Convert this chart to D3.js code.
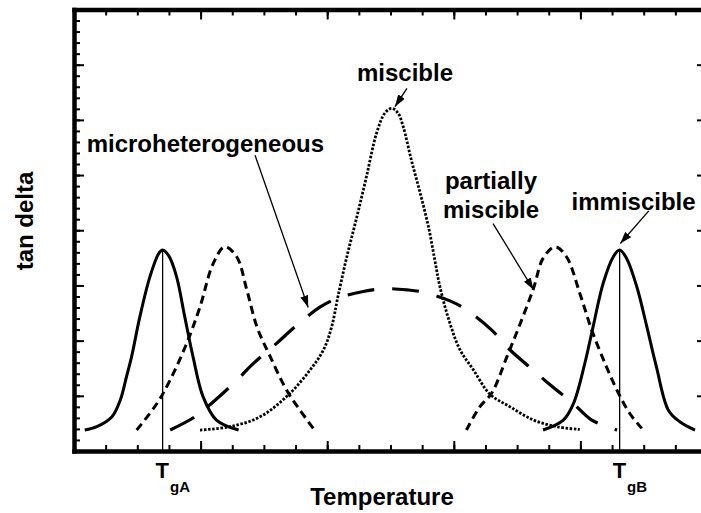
<!DOCTYPE html>
<html>
<head>
<meta charset="utf-8">
<script src="https://cdn.jsdelivr.net/npm/d3@7"></script>
<style>
  body { margin: 0; background: #fff; }
  text { font-family: "Liberation Sans", Arial, Helvetica, sans-serif; font-weight: bold; fill: #000; }
</style>
</head>
<body>
<div id="chart"></div>
<script>
// curves: [temperature, tan delta]
var immiscibleA = [[0.17,0.38],[0.36,0.44],[0.6,0.62],[0.73,0.92],[0.83,1.35],[0.91,1.71],[1.04,2.43],
    [1.2,3.16],[1.34,3.58],[1.4,3.64],[1.5,3.53],[1.62,3.16],[1.75,2.43],[1.88,1.71],[2.04,0.98],
    [2.25,0.56],[2.6,0.38]];
var immiscibleB = [[7.41,0.38],[7.73,0.56],[7.89,0.86],[8.07,1.59],[8.2,2.25],[8.36,3.04],[8.52,3.52],
    [8.62,3.64],[8.73,3.49],[8.89,2.98],[9.05,2.25],[9.2,1.53],[9.39,0.74],[9.57,0.53],[9.81,0.38]];
var partialA = [[0.99,0.38],[1.31,0.86],[1.52,1.29],[1.78,1.95],[1.99,2.61],[2.2,3.4],[2.38,3.7],
    [2.57,3.52],[2.73,2.92],[2.89,2.25],[3.1,1.71],[3.36,1.1],[3.57,0.74],[3.78,0.41]];
var partialB = [[6.2,0.38],[6.41,0.8],[6.6,1.05],[6.84,1.71],[7.05,2.31],[7.26,2.95],[7.41,3.49],
    [7.6,3.7],[7.78,3.52],[7.99,2.86],[8.18,2.19],[8.41,1.53],[8.6,1.05],[8.78,0.68],[8.97,0.41]];
var miscible = [[1.99,0.38],[2.46,0.44],[2.94,0.62],[3.38,1.01],[3.73,1.47],[3.94,1.83],[4.07,2.25],
    [4.17,2.8],[4.31,3.52],[4.47,4.25],[4.62,4.97],[4.78,5.76],[4.91,6.12],[5.02,6.21],[5.12,6.12],
    [5.2,5.88],[5.33,5.27],[5.47,4.67],[5.6,4.06],[5.7,3.46],[5.78,2.98],[5.94,2.31],[6.1,1.83],
    [6.31,1.47],[6.57,1.03],[6.89,0.8],[7.26,0.56],[7.63,0.44],[7.99,0.39]];
var microhet = [[1.52,0.38],[1.91,0.62],[2.18,0.87],[2.58,1.29],[2.81,1.56],[3.21,1.96],[3.49,2.25],
    [3.89,2.61],[4.17,2.77],[4.57,2.89],[4.91,2.94],[5.26,2.92],[5.51,2.88],[5.94,2.72],[6.21,2.55],
    [6.6,2.19],[6.89,1.83],[7.25,1.47],[7.52,1.2],[7.88,0.87],[8.18,0.56],[8.58,0.38]];

// glass transitions marked on the axis
var tgNames = ["gA", "gB"];
var tgValues = [1.4, 8.62];
var tgPeaks = [3.64, 3.64];

// label text, position and arrow (from -> to)
var labelNames = ["microheterogeneous", "miscible", "partially", "miscible", "immiscible"];
var labelPos = [[0.2,5.42],[4.47,6.71],[5.86,4.75],[5.83,4.22],[7.86,4.37]];
var arrowFrom = [[2.86,5.36],[5.26,6.57],[6.62,4.12],[9.08,4.35]];
var arrowTo = [[3.7,2.6],[5.07,6.24],[7.26,2.92],[8.63,3.76]];

var width = 701, height = 513;

var svg = d3.select("#chart").append("svg")
    .attr("width", width)
    .attr("height", height);

var x = d3.scaleLinear().domain([0, 10]).range([74, 707]);
var y = d3.scaleLinear().domain([0, 8]).range([451, 9.5]);

var majorX = d3.range(0, 10.01, 2), minorX = d3.range(0, 10.01, 0.5);
var majorY = d3.range(0, 8.01, 1), minorY = d3.range(0, 8.01, 0.2);

function axisGroup(axis, tx, ty, size, vals, withDomain) {
    var g = svg.append("g")
        .attr("transform", "translate(" + tx + "," + ty + ")")
        .call(axis.tickValues(vals).tickSizeInner(size).tickSizeOuter(0).tickFormat(""));
    g.selectAll(".tick line").attr("stroke", "#000").attr("stroke-width", 2);
    if (withDomain) {
        g.select(".domain").attr("stroke", "#000").attr("stroke-width", 4.5).attr("stroke-linecap", "square");
    } else {
        g.select(".domain").remove();
    }
    return g;
}

// frame with inward ticks
axisGroup(d3.axisBottom(x), 0, y(0), -6, minorX, false);
axisGroup(d3.axisBottom(x), 0, y(0), -10, majorX, true);
axisGroup(d3.axisTop(x), 0, y(8), -6, minorX, false);
axisGroup(d3.axisTop(x), 0, y(8), -10, majorX, true);
axisGroup(d3.axisLeft(y), x(0), 0, -6, minorY, false);
axisGroup(d3.axisLeft(y), x(0), 0, -10, majorY, true);
axisGroup(d3.axisRight(y), x(10), 0, -6, minorY, false);
axisGroup(d3.axisRight(y), x(10), 0, -10, majorY, true);

var line = d3.line()
    .x(function(d) { return x(d[0]); })
    .y(function(d) { return y(d[1]); })
    .curve(d3.curveCatmullRom.alpha(0.5));

var series = [
    {data: miscible, width: 2.8, dash: "2.5,1.6"},
    {data: partialA, width: 3, dash: "8,5"},
    {data: partialB, width: 3, dash: "8,5"},
    {data: microhet, width: 3.2, dash: "27,18"},
    {data: immiscibleA, width: 3, dash: null},
    {data: immiscibleB, width: 3, dash: null}
];

svg.selectAll("path.curve")
    .data(series)
    .enter().append("path")
    .attr("class", "curve")
    .attr("d", function(d) { return line(d.data); })
    .attr("fill", "none")
    .attr("stroke", "#000")
    .attr("stroke-width", function(d) { return d.width; })
    .attr("stroke-dasharray", function(d) { return d.dash; });

// Tg drop lines and labels
tgValues.forEach(function(v, i) {
    svg.append("line")
        .attr("x1", x(v)).attr("x2", x(v))
        .attr("y1", y(tgPeaks[i])).attr("y2", y(0))
        .attr("stroke", "#000").attr("stroke-width", 1.3);
    var t = svg.append("text")
        .attr("x", x(v) - 7)
        .attr("y", 478)
        .style("font-size", "22px")
        .text("T");
    t.append("tspan")
        .attr("dx", 1)
        .attr("dy", 14)
        .style("font-size", "15px")
        .text(tgNames[i]);
});

// arrowhead
svg.append("defs").append("marker")
    .attr("id", "head")
    .attr("markerUnits", "userSpaceOnUse")
    .attr("viewBox", "0 0 12 8")
    .attr("refX", 12).attr("refY", 4)
    .attr("markerWidth", 12).attr("markerHeight", 8)
    .attr("orient", "auto")
    .append("path")
    .attr("d", "M0,0L12,4L0,8Z")
    .attr("fill", "#000");

arrowFrom.forEach(function(f, i) {
    svg.append("line")
        .attr("x1", x(f[0])).attr("y1", y(f[1]))
        .attr("x2", x(arrowTo[i][0])).attr("y2", y(arrowTo[i][1]))
        .attr("stroke", "#000").attr("stroke-width", 1.3)
        .attr("marker-end", "url(#head)");
});

svg.selectAll("text.label")
    .data(labelNames)
    .enter().append("text")
    .attr("class", "label")
    .attr("x", function(d, i) { return x(labelPos[i][0]); })
    .attr("y", function(d, i) { return y(labelPos[i][1]); })
    .style("font-size", "24px")
    .text(function(d) { return d; });

// axis titles
svg.append("text")
    .attr("x", 382)
    .attr("y", 505)
    .attr("text-anchor", "middle")
    .style("font-size", "24px")
    .text("Temperature");

svg.append("text")
    .attr("transform", "translate(33,221) rotate(-90)")
    .attr("text-anchor", "middle")
    .style("font-size", "24px")
    .text("tan delta");
</script>
</body>
</html>
